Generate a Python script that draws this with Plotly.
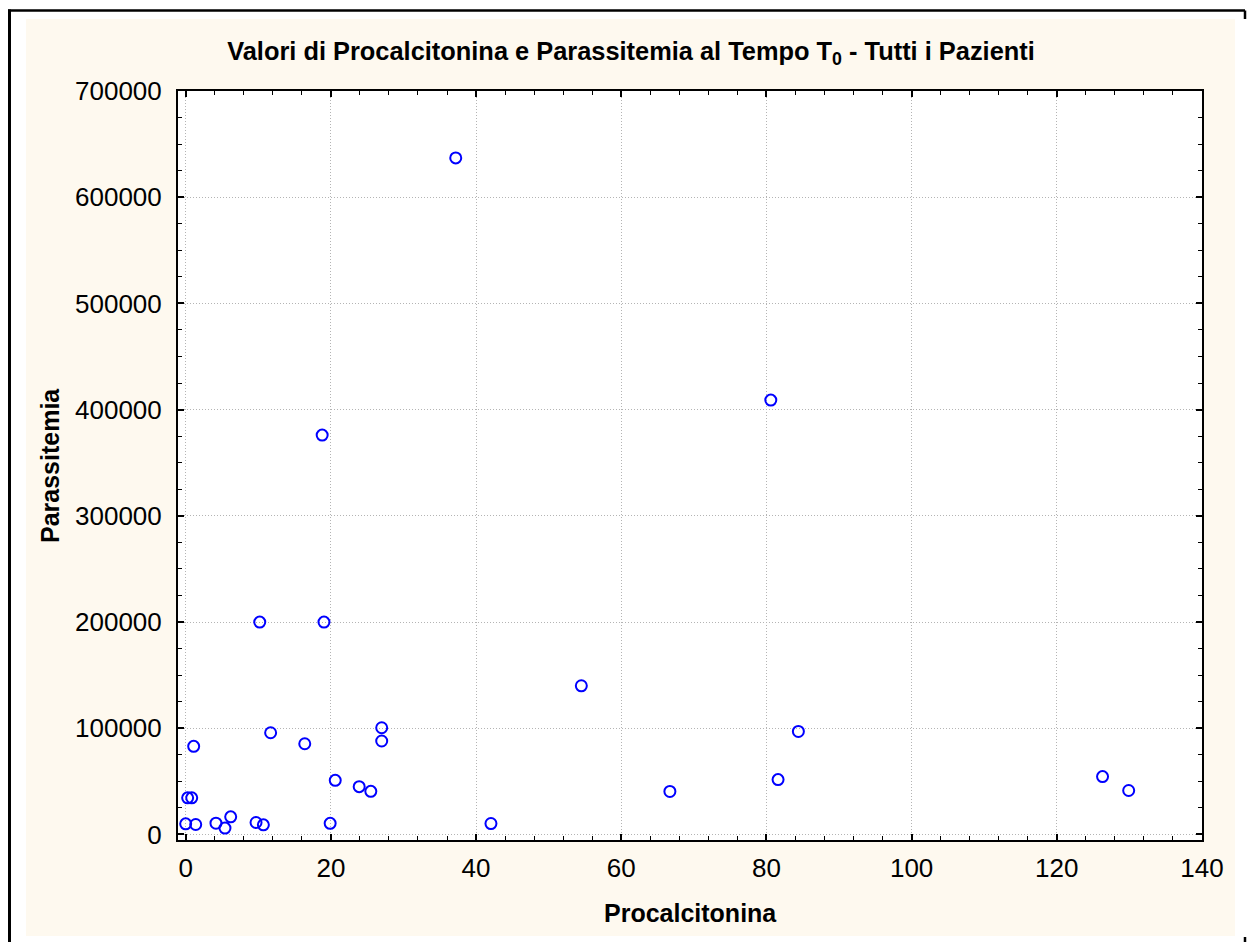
import plotly.graph_objects as go

# Data
procalcitonina = [37.2, 80.6, 18.8, 10.2, 19.05, 54.5, 27.0, 27.0, 11.7, 16.4,
                  1.1, 84.4, 20.6, 23.9, 25.5, 66.7, 81.6, 126.3, 129.9, 42.05,
                  19.9, 0.27, 0.83, 0.0, 1.38, 4.17, 5.41, 6.2, 9.69, 10.7]
parassitemia = [637000, 409000, 376000, 200000, 200000, 140000, 100500, 88000, 95800, 85400,
                83000, 97000, 51000, 45000, 40600, 40500, 51700, 54500, 41400, 10300,
                10500, 34500, 34500, 10000, 9400, 10600, 6000, 16600, 11300, 9100]

x_ticks = [0, 20, 40, 60, 80, 100, 120, 140]
y_ticks = [0, 100000, 200000, 300000, 400000, 500000, 600000, 700000]

W, H = 1256, 942
OFF = 8  # page body margin
# plot area in page pixels
L, R, T, B = 178 - OFF, 1202 - OFF, 91 - OFF, 840 - OFF
pw, ph = R - L, B - T

def px(x):
    return (x - OFF - L) / pw

def py(y):
    return (B - (y - OFF)) / ph

FONT = "Liberation Sans, Arial, sans-serif"

fig = go.Figure()
fig.add_trace(go.Scatter(
    x=procalcitonina, y=parassitemia, mode="markers",
    marker=dict(symbol="circle-open", size=11, color="#0000FF", line=dict(width=2, color="#0000FF")),
    showlegend=False, cliponaxis=False,
))

axis_common = dict(
    showline=True, linecolor="black", linewidth=2, mirror="ticks",
    ticks="inside", ticklen=6, tickwidth=1.5, tickcolor="black",
    showgrid=True, gridcolor="#B4B4B4", griddash="1px,2px", gridwidth=1,
    zeroline=False,
    tickfont=dict(family=FONT, size=26, color="black"),
)

fig.update_xaxes(
    range=[-1.06, 140], tickvals=x_ticks, ticktext=[str(v) for v in x_ticks],
    minor=dict(dtick=4, tick0=0, ticks="inside", ticklen=4, tickwidth=1.2, tickcolor="black", showgrid=False),
    ticklabelstandoff=4,
    **axis_common,
)
fig.update_yaxes(
    range=[-5200, 700000], tickvals=y_ticks, ticktext=[str(v) for v in y_ticks],
    minor=dict(dtick=25000, tick0=0, ticks="inside", ticklen=4, tickwidth=1.2, tickcolor="black", showgrid=False),
    ticklabelstandoff=9,
    **axis_common,
)

shapes = [
    # cream background panel
    dict(type="rect", xref="paper", yref="paper", x0=px(26), x1=px(1235), y0=py(936), y1=py(19),
         fillcolor="#FEF9EF", line=dict(width=0), layer="below"),
    # white plot area
    dict(type="rect", xref="paper", yref="paper", x0=0, x1=1, y0=0, y1=1,
         fillcolor="white", line=dict(width=0), layer="below"),
    # outer frame lines
    dict(type="line", xref="paper", yref="paper", x0=px(8), x1=px(1245), y0=py(10.5), y1=py(10.5),
         line=dict(color="black", width=2.5)),
    dict(type="line", xref="paper", yref="paper", x0=px(1245), x1=px(1245), y0=py(10.5), y1=py(19),
         line=dict(color="black", width=2.5)),
    dict(type="line", xref="paper", yref="paper", x0=px(9.5), x1=px(9.5), y0=py(9.5), y1=py(950),
         line=dict(color="black", width=3)),
    dict(type="line", xref="paper", yref="paper", x0=px(1252), x1=px(1252), y0=py(19), y1=py(950),
         line=dict(color="black", width=3)),
    dict(type="line", xref="paper", yref="paper", x0=px(1245), x1=px(1245), y0=py(937), y1=py(950),
         line=dict(color="black", width=2.5)),
]

annotations = [
    dict(text="<b>Procalcitonina</b>", xref="paper", yref="paper", x=px(690), y=py(913),
         xanchor="center", yanchor="middle", showarrow=False,
         font=dict(family=FONT, size=25, color="black")),
    dict(text="<b>Parassitemia</b>", xref="paper", yref="paper", x=px(50), y=py(466),
         xanchor="center", yanchor="middle", showarrow=False, textangle=-90,
         font=dict(family=FONT, size=25, color="black")),
]

fig.update_layout(
    width=W, height=H,
    margin=dict(l=L, r=W - R, t=T, b=H - B, pad=0),
    paper_bgcolor="white", plot_bgcolor="rgba(0,0,0,0)",
    title=dict(text="<b>Valori di Procalcitonina e Parassitemia al Tempo T<sub>0</sub> - Tutti i Pazienti</b>",
               x=(631 - OFF) / W, xanchor="center", y=1 - (51 - OFF) / H, yanchor="middle",
               xref="container", yref="container",
               font=dict(family=FONT, size=25.4, color="black")),
    shapes=shapes, annotations=annotations,
)

fig.write_html("out.html")
